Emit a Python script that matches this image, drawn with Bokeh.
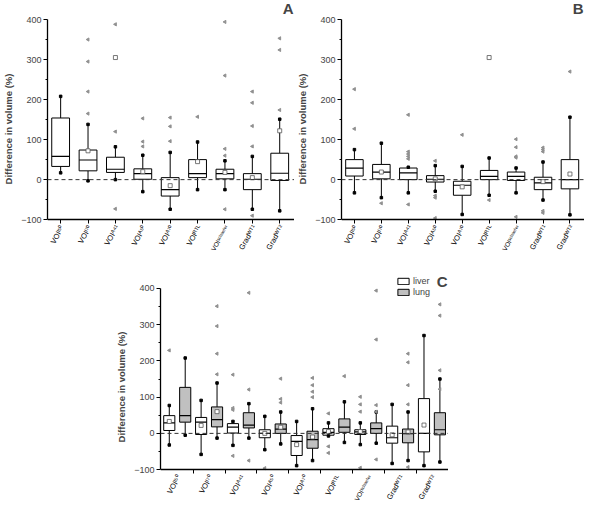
import math
from bokeh.plotting import figure
from bokeh.models import (ColumnDataSource, FixedTicker, Span, Range1d, Legend, LegendItem,
                          Label, Spacer)
from bokeh.core.properties import value
from bokeh.layouts import column, row
from bokeh.embed import file_html
from bokeh.resources import INLINE

NAN = float("nan")

methods = ["VOIᴵ⁵⁰", "VOIᴵ⁷⁰", "VOIᴬ⁴¹", "VOIᴬ⁵⁰", "VOIᴬ⁷⁰", "VOIᴿᵀᴸ",
           "VOIˢᶜʰᵃᵉᶠᵉʳ", "Gradᵂᵀ¹", "Gradᵂᵀ²"]
y_label = "Difference in volume (%)"
y_ticks = [-100, 0, 100, 200, 300, 400]
y_minor = [-50, 50, 150, 250, 350]

# ---- Panel A ----
A_q1 = [33, 22, 18, 1, -41, 5, 2, -25, -2]
A_med = [58, 49, 26, 15, -25, 15, 15, 1, 16]
A_q3 = [154, 74, 56, 27, 5, 50, 26, 15, 66]
A_whi = [208, 138, 82, 61, 68, 94, 47, 58, 151]
A_wlo = [17, -3, 0, -30, -74, -25, -25, -74, -78]
A_mean = [NAN, 72, 305, 20, -15, 45, 18, 5, 122]
A_out = [[], [350, 295, 220, 165], [388, 120, -73], [153, 95, 83], [155, 133, 96],
         [157], [394, 260, 77, 60, -74], [220, 192, 134, 83, -90], [353, 324, 174]]

# ---- Panel B ----
B_q1 = [9, 2, 0, -6, -39, 0, -2, -25, -23]
B_med = [29, 19, 17, 1, -14, 8, 8, -8, 0]
B_q3 = [50, 38, 29, 10, -4, 23, 19, 6, 50]
B_whi = [75, 91, 31, 35, 33, 54, 29, 44, 156]
B_wlo = [-33, -45, -33, -29, -87, -39, -33, -51, -88]
B_mean = [NAN, 19, NAN, 2, -18, 305, NAN, -5, 14]
B_out = [[226, 127], [-59], [162, 70, 64, 58, 52, -62], [47, -40, -45, -96], [112],
         [-51], [101, 81, 58, 55, -93], [80, 75, 70, -78, -83], [270]]

# ---- Panel C : liver ----
CL_q1 = [8, -3, 1, -12, -61, -5, -3, -27, -51]
CL_med = [29, 31, 17, 0, -22, 3, 4, -12, 0]
CL_q3 = [49, 44, 27, 10, -6, 13, 10, 20, 96]
CL_whi = [77, 91, 33, 47, 33, 29, 29, 80, 270]
CL_wlo = [-32, -58, -33, -45, -89, -7, -31, -83, -89]
CL_mean = [33, 22, NAN, 0, -31, 5, 5, -4, 23]
CL_out = [[229], [], [162, 70, 65, -62], [-96], [], [55, -36, -54], [101, 80, 60, -95], [], []]

# ---- Panel C : lung ----
CG_q1 = [31, 18, 15, 0, -41, 3, 0, -26, -4]
CG_med = [49, 38, 23, 12, -17, 17, 13, -1, 10]
CG_q3 = [127, 73, 57, 26, 6, 40, 29, 12, 57]
CG_whi = [208, 139, 82, 59, 68, 87, 59, 59, 150]
CG_wlo = [-5, -13, -13, -29, -75, -25, -27, -75, -79]
CG_mean = [NAN, 60, NAN, 17, -10, NAN, NAN, 4, NAN]
CG_out = [[], [351, 296, 220, 163], [388, 121, -75], [151, 95, 85], [153, 133, 115, 100],
          [158], [394, 259, 78, 60, -72], [220, 196, 133, 80, -93], [356, 325, 174, 122]]

FONT = "Liberation Sans"
cats = [1, 2, 3, 4, 5, 6, 7, 8, 9]
Y_MIN = -100
Y_MAX = 400
label_sizes = ["6.5px" if len(m) > 8 else "7.5px" for m in methods]


def base_fig(width, height, xr, yr, bl, bt, bb, br, ticks, minor, major_out):
    p = figure(width=width, height=height, x_range=Range1d(*xr), y_range=Range1d(*yr),
               output_backend="svg", toolbar_location=None,
               min_border_left=bl, min_border_top=bt, min_border_bottom=bb, min_border_right=br)
    p.grid.visible = False
    p.outline_line_color = None
    yax = p.yaxis[0]
    yax.ticker = FixedTicker(ticks=y_ticks, minor_ticks=y_minor)
    yax.bounds = (Y_MIN, Y_MAX)
    yax.axis_label = y_label
    yax.axis_label_text_font = FONT
    yax.axis_label_text_font_style = "bold"
    yax.axis_label_text_font_size = "9.5px"
    yax.axis_label_standoff = 4
    yax.major_label_text_font = FONT
    yax.major_label_text_font_size = "9px"
    yax.major_label_standoff = 2
    yax.major_tick_in = 0
    yax.major_tick_out = 4
    yax.minor_tick_in = 0
    yax.minor_tick_out = 2
    yax.axis_line_width = 1.3
    xax = p.xaxis[0]
    xax.fixed_location = Y_MIN
    xax.ticker = FixedTicker(ticks=ticks, minor_ticks=minor)
    xax.major_label_overrides = {t: "" for t in ticks}
    xax.major_label_text_color = None
    xax.major_label_standoff = 0
    xax.major_tick_in = 0
    xax.major_tick_out = major_out
    xax.minor_tick_in = 0
    xax.minor_tick_out = 4
    xax.axis_line_width = 1.3
    p.add_layout(Span(location=0, dimension="width", line_color="#333333",
                      line_dash="4 3", line_width=1))
    # category labels, rotated, hanging below the x axis
    p.text(x=ticks, y=[Y_MIN] * len(ticks), text=methods, angle=math.radians(60),
           text_align="right", text_baseline="middle", x_offset=2, y_offset=6,
           text_font=value(FONT), text_font_size=label_sizes, text_color="black")
    return p


def draw_boxes(p, xs, bw, q1, med, q3, whi, wlo, mean, outs, fill):
    src = ColumnDataSource(dict(x=xs, xl=[x - bw / 2 for x in xs], xr=[x + bw / 2 for x in xs],
                                q1=q1, med=med, q3=q3, whi=whi, wlo=wlo, mean=mean))
    p.segment(x0="x", y0="q3", x1="x", y1="whi", source=src, line_color="black", line_width=1)
    p.segment(x0="x", y0="q1", x1="x", y1="wlo", source=src, line_color="black", line_width=1)
    r = p.vbar(x="x", width=bw, top="q3", bottom="q1", source=src, fill_color=fill,
               line_color="black", line_width=1)
    p.segment(x0="xl", y0="med", x1="xr", y1="med", source=src, line_color="black", line_width=1.2)
    p.scatter(x="x", y="whi", source=src, marker="square", size=2.5, color="black")
    p.scatter(x="x", y="wlo", source=src, marker="square", size=2.5, color="black")
    p.scatter(x="x", y="mean", source=src, marker="square", size=4, fill_color="white",
              line_color="#555555", line_width=0.8)
    ox, oy = [], []
    for x, vals in zip(xs, outs):
        for v in vals:
            ox.append(x)
            oy.append(v)
    p.scatter(x=ox, y=oy, marker="triangle", angle=math.pi / 2, size=3.2,
              color="#909090")
    return r


def letter(p, text, dy):
    p.add_layout(Label(x=p.x_range.end, y=Y_MAX, text=text, text_align="right",
                       text_baseline="bottom", x_offset=-1, y_offset=dy,
                       text_font=FONT, text_font_style="bold", text_font_size="15px"))


# Panel A
pA = base_fig(294, 256, (0.52, 9.54), (-192, 445), 40, 1, 0, 0, cats, [], 4)
draw_boxes(pA, cats, 0.65, A_q1, A_med, A_q3, A_whi, A_wlo, A_mean, A_out, "white")
letter(pA, "A", 3)

# Panel B
pB = base_fig(290, 256, (0.52, 9.54), (-192, 445), 42, 1, 0, 0, cats, [], 4)
draw_boxes(pB, cats, 0.65, B_q1, B_med, B_q3, B_whi, B_wlo, B_mean, B_out, "white")
letter(pB, "B", 3)

# Panel C
liver_x = [c - 0.25 for c in cats]
lung_x = [c + 0.25 for c in cats]
bounds = [c + 0.5 for c in cats[:-1]]
pC = base_fig(335, 249, (0.474, 9.52), (-199, 455), 42, 12, 0, 0, cats, bounds, 0)
r_liver = draw_boxes(pC, liver_x, 0.35, CL_q1, CL_med, CL_q3, CL_whi, CL_wlo, CL_mean, CL_out, "white")
r_lung = draw_boxes(pC, lung_x, 0.35, CG_q1, CG_med, CG_q3, CG_whi, CG_wlo, CG_mean, CG_out, "#c0c0c0")
letter(pC, "C", -2)
legend = Legend(items=[LegendItem(label="liver", renderers=[r_liver]),
                       LegendItem(label="lung", renderers=[r_lung])],
                location=(236, 208), border_line_color=None, background_fill_alpha=0,
                label_text_font=FONT, label_text_font_size="9px", glyph_width=14,
                glyph_height=8, label_height=9, spacing=1, padding=0, margin=0,
                label_standoff=3)
pC.add_layout(legend)

layout = column(row(pA, pB), row(Spacer(width=113, height=249), pC))
open("out.html", "w").write(file_html(layout, INLINE))
